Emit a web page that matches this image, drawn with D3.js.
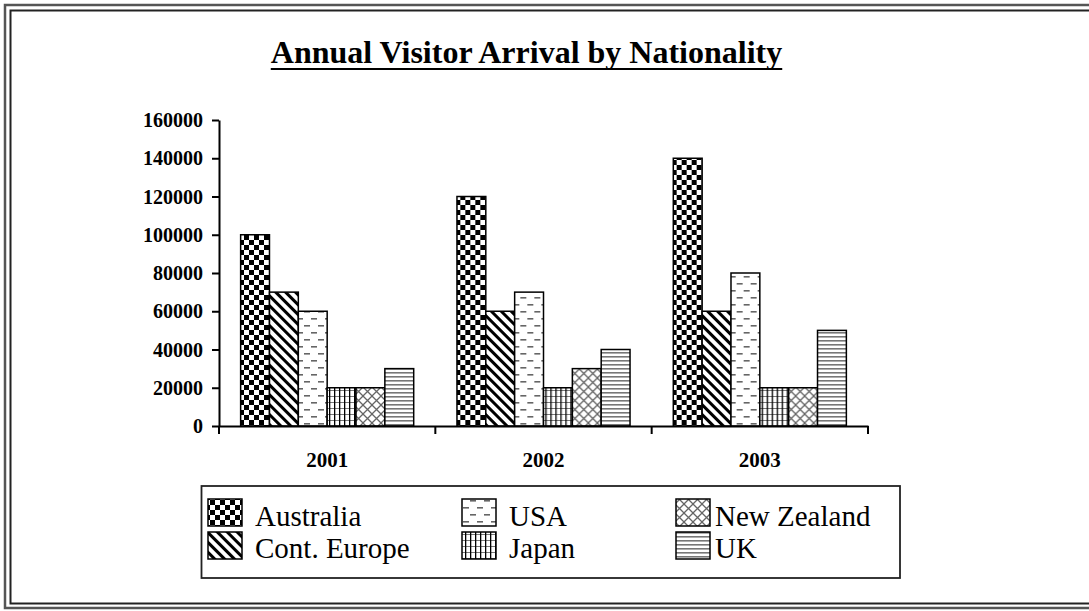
<!DOCTYPE html>
<html><head><meta charset="utf-8">
<script src="https://cdn.jsdelivr.net/npm/d3@7"></script>
<style>html,body{margin:0;padding:0;background:#fff;}svg{display:block;}</style>
</head><body>
<svg id="chart" width="1089" height="611"></svg>
<script>
const years = ["2001", "2002", "2003"];
const nationalities = ["Australia", "Cont. Europe", "USA", "Japan", "New Zealand", "UK"];
const australia   = [100000, 120000, 140000];
const contEurope  = [70000, 60000, 60000];
const usa         = [60000, 70000, 80000];
const japan       = [20000, 20000, 20000];
const newZealand  = [20000, 30000, 20000];
const uk          = [30000, 40000, 50000];
const yTicks = [0, 20000, 40000, 60000, 80000, 100000, 120000, 140000, 160000];
const titleText = "Annual Visitor Arrival by Nationality";
const legendOrder = [["Australia", "USA", "New Zealand"], ["Cont. Europe", "Japan", "UK"]];

const seriesValues = {
  "Australia": australia, "Cont. Europe": contEurope, "USA": usa,
  "Japan": japan, "New Zealand": newZealand, "UK": uk
};
const patId = {
  "Australia": "p-aus", "Cont. Europe": "p-eur", "USA": "p-usa",
  "Japan": "p-jpn", "New Zealand": "p-nz", "UK": "p-uk"
};

const svg = d3.select("#chart");
const serif = "'Liberation Serif','Times New Roman',serif";

// ---------- patterns ----------
const defs = svg.append("defs");
// checkerboard
let p = defs.append("pattern").attr("id", "p-aus").attr("patternUnits", "userSpaceOnUse")
  .attr("width", 10).attr("height", 10);
p.append("rect").attr("width", 10).attr("height", 10).attr("fill", "#fff");
p.append("rect").attr("x", 0).attr("y", 0).attr("width", 5).attr("height", 5).attr("fill", "#000");
p.append("rect").attr("x", 5).attr("y", 5).attr("width", 5).attr("height", 5).attr("fill", "#000");
// wide downward diagonal
p = defs.append("pattern").attr("id", "p-eur").attr("patternUnits", "userSpaceOnUse")
  .attr("width", 7).attr("height", 7).attr("patternTransform", "rotate(-45)");
p.append("rect").attr("width", 7).attr("height", 7).attr("fill", "#fff");
p.append("rect").attr("x", 0).attr("y", 0).attr("width", 3).attr("height", 7).attr("fill", "#000");
// dashed horizontal
p = defs.append("pattern").attr("id", "p-usa").attr("patternUnits", "userSpaceOnUse")
  .attr("width", 14).attr("height", 14);
p.append("rect").attr("width", 14).attr("height", 14).attr("fill", "#fff");
p.append("rect").attr("x", 1).attr("y", 3).attr("width", 6).attr("height", 1.6).attr("fill", "#666");
p.append("rect").attr("x", 8).attr("y", 10).attr("width", 6).attr("height", 1.6).attr("fill", "#666");
// small grid
p = defs.append("pattern").attr("id", "p-jpn").attr("patternUnits", "userSpaceOnUse")
  .attr("width", 5).attr("height", 6);
p.append("rect").attr("width", 5).attr("height", 6).attr("fill", "#fff");
p.append("rect").attr("x", 0).attr("y", 0).attr("width", 5).attr("height", 1).attr("fill", "#777");
p.append("rect").attr("x", 0).attr("y", 0).attr("width", 1.3).attr("height", 6).attr("fill", "#000");
// diagonal crosshatch
p = defs.append("pattern").attr("id", "p-nz").attr("patternUnits", "userSpaceOnUse")
  .attr("width", 9).attr("height", 9);
p.append("rect").attr("width", 9).attr("height", 9).attr("fill", "#fff");
p.append("path").attr("d", "M0,0L9,9M9,0L0,9").attr("stroke", "#666").attr("stroke-width", 1.3);
// horizontal lines
p = defs.append("pattern").attr("id", "p-uk").attr("patternUnits", "userSpaceOnUse")
  .attr("width", 8).attr("height", 4);
p.append("rect").attr("width", 8).attr("height", 4).attr("fill", "#fff");
p.append("rect").attr("x", 0).attr("y", 0).attr("width", 8).attr("height", 1.6).attr("fill", "#777");

// ---------- frame ----------
svg.append("rect").attr("x", 5).attr("y", 5).attr("width", 1100).attr("height", 603)
  .attr("fill", "none").attr("stroke", "#555").attr("stroke-width", 2.5);
svg.append("rect").attr("x", 10.5).attr("y", 10.5).attr("width", 1100).attr("height", 593)
  .attr("fill", "none").attr("stroke", "#222").attr("stroke-width", 2);

// ---------- title ----------
const title = svg.append("text").attr("x", 526.5).attr("y", 63)
  .attr("text-anchor", "middle").attr("font-family", serif)
  .attr("font-weight", "bold").attr("font-size", 32).attr("fill", "#000").text(titleText);
const tw = title.node().getComputedTextLength();
svg.append("line").attr("x1", 526.5 - tw / 2).attr("x2", 526.5 + tw / 2)
  .attr("y1", 69).attr("y2", 69).attr("stroke", "#000").attr("stroke-width", 2);

// ---------- scales ----------
const x0 = d3.scaleBand().domain(years).range([219, 868]).paddingInner(0).paddingOuter(0);
const bw = x0.bandwidth();
const x1 = d3.scaleBand().domain(nationalities).range([bw * 0.1, bw * 0.9]).padding(0);
const y = d3.scaleLinear().domain([0, 160000]).range([426, 120]);

// ---------- bars ----------
const groups = svg.append("g").selectAll("g").data(years).join("g")
  .attr("transform", d => `translate(${x0(d)},0)`);
groups.selectAll("rect")
  .data((yr, i) => nationalities.map(n => ({ n, v: seriesValues[n][i] })))
  .join("rect")
  .attr("x", d => x1(d.n))
  .attr("y", d => y(d.v))
  .attr("width", x1.bandwidth())
  .attr("height", d => y(0) - y(d.v))
  .attr("fill", d => `url(#${patId[d.n]})`)
  .attr("stroke", "#000").attr("stroke-width", 1.5);

// ---------- y axis ----------
const yAxis = svg.append("g").attr("transform", "translate(219,0)")
  .call(d3.axisLeft(y).tickValues(yTicks).tickFormat(d3.format("d")).tickSize(7).tickSizeOuter(0).tickPadding(9));
yAxis.select(".domain").attr("stroke", "#000").attr("stroke-width", 2);
yAxis.selectAll(".tick line").attr("stroke", "#000").attr("stroke-width", 2);
yAxis.selectAll(".tick text").attr("font-family", serif).attr("font-weight", "bold")
  .attr("font-size", 20).attr("fill", "#000").attr("dy", "0.33em");

// ---------- x axis ----------
const xAxis = svg.append("g").attr("transform", "translate(0,426)")
  .call(d3.axisBottom(x0).tickSize(0).tickSizeOuter(0).tickPadding(0));
xAxis.select(".domain").attr("stroke", "#000").attr("stroke-width", 2);
xAxis.selectAll(".tick text").attr("font-family", serif).attr("font-weight", "bold")
  .attr("font-size", 21).attr("fill", "#000").attr("y", 41).attr("dy", 0);
const bounds = years.map(d => x0(d)).concat([x0.range()[1]]);
svg.append("g").selectAll("line").data(bounds).join("line")
  .attr("x1", d => d).attr("x2", d => d).attr("y1", 426).attr("y2", 434)
  .attr("stroke", "#000").attr("stroke-width", 2);

// ---------- legend ----------
svg.append("rect").attr("x", 201.5).attr("y", 486).attr("width", 698.5).attr("height", 92)
  .attr("fill", "none").attr("stroke", "#222").attr("stroke-width", 1.8);
const colSwatchX = [208, 462, 676];
const colTextX = [255, 509, 715];
const rowSwatchY = [499, 532];
const rowTextY = [526, 558];
legendOrder.forEach((row, r) => {
  row.forEach((name, c) => {
    svg.append("rect").attr("x", colSwatchX[c]).attr("y", rowSwatchY[r])
      .attr("width", 34).attr("height", 27)
      .attr("fill", `url(#${patId[name]})`).attr("stroke", "#000").attr("stroke-width", 1.5);
    svg.append("text").attr("x", colTextX[c]).attr("y", rowTextY[r])
      .attr("font-family", serif).attr("font-size", 29).attr("fill", "#000").text(name);
  });
});
</script>
</body></html>
